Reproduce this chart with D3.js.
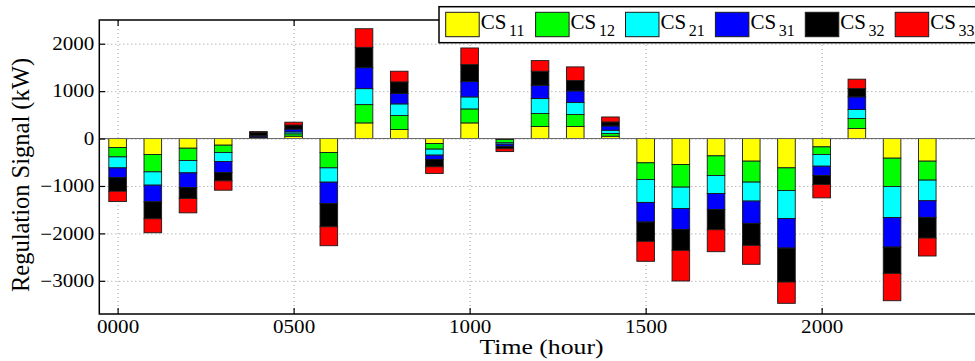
<!DOCTYPE html>
<html><head><meta charset="utf-8">
<script src="https://cdn.jsdelivr.net/npm/d3@7"></script>
<style>
html,body{margin:0;padding:0;background:#fff;}
svg{display:block;}
</style></head>
<body>
<svg id="c" width="975" height="361"></svg>
<script>
// ---- data ----
const hours = d3.range(24);
const seriesNames = ["CS11","CS12","CS21","CS31","CS32","CS33"];
const seriesSubs = ["11","12","21","31","32","33"];
const seriesColors = ["#ffff00","#00ff00","#00ffff","#0000ff","#000000","#ff0000"];
const CS11 = [-190,-337,-204,-140,10,50,-295,330,190,-105,330,-20,253,253,49,-512,-548,-365,-477,-618,-176,211,-414,-477];
const CS12 = [-197,-365,-260,-154,10,50,-323,386,295,-119,295,-70,274,253,56,-351,-477,-414,-442,-477,-161,211,-597,-400];
const CS21 = [-232,-281,-260,-190,15,40,-302,337,246,-126,253,-30,316,253,70,-484,-449,-379,-400,-590,-246,190,-653,-435];
const CS31 = [-204,-351,-309,-232,25,60,-449,442,218,-91,323,-45,281,246,91,-414,-442,-337,-470,-625,-197,267,-625,-351];
const CS32 = [-288,-358,-232,-176,70,85,-491,428,246,-154,358,-50,295,218,84,-407,-442,-428,-463,-716,-190,176,-555,-435];
const CS33 = [-218,-295,-302,-197,17,60,-400,393,225,-140,351,-60,225,288,105,-421,-646,-463,-400,-449,-281,197,-576,-379];
const seriesValues = [CS11,CS12,CS21,CS31,CS32,CS33];
const xTickValues = [0,5,10,15,20];
const xTickLabels = ["0000","0500","1000","1500","2000"];
const yTickValues = [-3000,-2000,-1000,0,1000,2000];

// ---- layout ----
const FONT = "Liberation Serif";
const L = 99.3, R = 985, T = 20, B = 314;
const svg = d3.select("#c");
const x = d3.scaleLinear().domain([-0.52, 24.64]).range([L, R]);
const y = d3.scaleLinear().domain([-3700, 2500]).range([B, T]);
const barW = x(0.5) - x(0);

const rows = hours.map((h,i)=>{const o={hour:h}; seriesNames.forEach((s,k)=>o[s]=seriesValues[k][i]); return o;});
const stacked = d3.stack().keys(seriesNames).offset(d3.stackOffsetDiverging)(rows);

// grid
const gGrid = svg.append("g");
gGrid.append("g").attr("transform",`translate(${L},0)`)
  .call(d3.axisLeft(y).tickValues(yTickValues).tickSize(-(R-L)).tickFormat(""))
  .call(g=>g.select(".domain").remove())
  .selectAll("line").attr("stroke","#9a9a9a").attr("stroke-width",1).attr("stroke-dasharray","1,3");
gGrid.append("g").attr("transform",`translate(0,${B})`)
  .call(d3.axisBottom(x).tickValues(xTickValues).tickSize(-(B-T)).tickFormat(""))
  .call(g=>g.select(".domain").remove())
  .selectAll("line").attr("stroke","#9a9a9a").attr("stroke-width",1).attr("stroke-dasharray","1,3");

// bars
const gBars = svg.append("g");
stacked.forEach((layer,k)=>{
  gBars.append("g").selectAll("rect").data(layer).join("rect")
    .attr("x", d=>x(d.data.hour)-barW/2)
    .attr("width", barW)
    .attr("y", d=>y(Math.max(d[0],d[1])))
    .attr("height", d=>Math.abs(y(d[0])-y(d[1])))
    .attr("fill", seriesColors[k])
    .attr("stroke","#1a1a1a").attr("stroke-width",0.9);
});
// baseline
svg.append("line").attr("x1",L).attr("x2",R).attr("y1",y(0)).attr("y2",y(0))
  .attr("stroke","#666").attr("stroke-width",1);

// axes
const tickFont = 18;
const ay = svg.append("g").attr("transform",`translate(${L},0)`)
  .call(d3.axisLeft(y).tickValues(yTickValues).tickSize(-6).tickSizeOuter(0).tickPadding(5)
    .tickFormat(d=>d<0?"\u2212"+Math.abs(d):String(d)));
const ax = svg.append("g").attr("transform",`translate(0,${B})`)
  .call(d3.axisBottom(x).tickValues(xTickValues).tickSize(-6).tickSizeOuter(0).tickPadding(6)
    .tickFormat((d,i)=>xTickLabels[i]));
const at = svg.append("g").attr("transform",`translate(0,${T})`)
  .call(d3.axisTop(x).tickValues(xTickValues).tickSize(-6).tickSizeOuter(0).tickFormat(""));
[ay,ax,at].forEach(g=>{
  g.attr("font-family",FONT).attr("font-size",tickFont);
  g.select(".domain").remove();
  g.selectAll("line").attr("stroke","#000").attr("stroke-width",1.2);
  g.selectAll("text").attr("fill","#000").attr("font-family",FONT).attr("font-size",tickFont)
    .each(function(){
      const tx = +(this.getAttribute("x")||0);
      d3.select(this).attr("transform",`translate(${tx},0) scale(1.17,1) translate(${-tx},0)`);
    });
});
// frame
svg.append("rect").attr("x",L).attr("y",T).attr("width",R-L).attr("height",B-T)
  .attr("fill","none").attr("stroke","#000").attr("stroke-width",1.5);

// labels
svg.append("text").attr("transform","translate(541.5,354) scale(1.17,1)").attr("text-anchor","middle")
  .attr("font-family",FONT).attr("font-size",22).text("Time (hour)");
svg.append("text").attr("transform","translate(28.5,175) rotate(-90)").attr("text-anchor","middle")
  .attr("font-family",FONT).attr("font-size",24.5).text("Regulation Signal (kW)");

// legend
const lg = svg.append("g");
lg.append("rect").attr("x",439).attr("y",6.7).attr("width",560).attr("height",36)
  .attr("fill","#fff").attr("stroke","#000").attr("stroke-width",1.5);
const items = lg.selectAll("g.item").data(seriesNames).join("g").attr("class","item")
  .attr("transform",(d,i)=>`translate(${445.7+i*89.9},0)`);
items.append("rect").attr("x",0).attr("y",12.3).attr("width",33.5).attr("height",24.4)
  .attr("fill",(d,i)=>seriesColors[i]).attr("stroke","#1a1a1a").attr("stroke-width",1);
items.append("text").attr("x",35).attr("y",28.5).attr("font-family",FONT).attr("font-size",21).text("CS");
items.append("text").attr("x",63.3).attr("y",35.5).attr("font-family",FONT).attr("font-size",16).text((d,i)=>seriesSubs[i]);
</script>
</body></html>
